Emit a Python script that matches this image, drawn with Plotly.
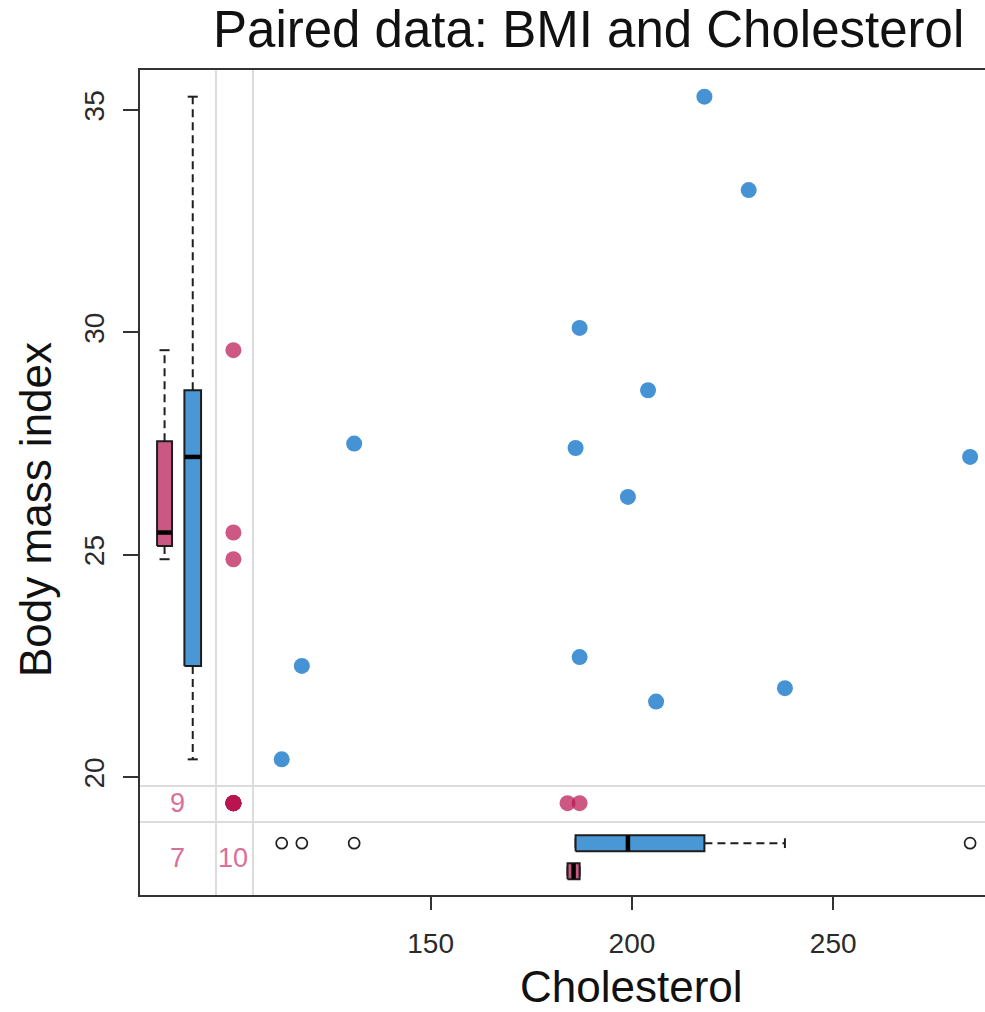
import numpy as np
import plotly.graph_objects as go

nan = np.nan

# nhanes subset: body mass index and total serum cholesterol for 25 subjects
bmi = [nan, 22.7, nan, nan, 20.4, nan, 22.5, 30.1, 22.0, nan, nan, nan, 21.7,
       28.7, 29.6, nan, 27.2, 26.3, 35.3, 25.5, nan, 33.2, 27.5, 24.9, 27.4]
chl = [nan, 187, 187, nan, 113, 184, 118, 187, 238, nan, nan, nan, 206,
       204, nan, nan, 284, 199, 218, nan, nan, 229, 131, nan, 186]

x_ticks = [150, 200, 250]
y_ticks = [20, 25, 30, 35]

title_text = "Paired data: BMI and Cholesterol"
x_label = "Cholesterol"
y_label = "Body mass index"

# ---- colours ----
BLUE = "#4592D4"
BLUE_BOX = "#4A97D6"
RED = "rgba(185,20,80,0.71)"
RED_BOX = "#C95983"
RED_TXT = "#D8709A"
INK = "#1E1E1E"
GRID = "#DCDCDC"
FONT = "Liberation Sans, Arial, sans-serif"

# ---- axis ranges and margin layout (data units) ----
X_RANGE = [77.8, 287.7]
Y_RANGE = [17.35, 35.90]
X_SEP = [96.67, 105.86]      # vertical separators of the "missing x" column
Y_SEP = [19.80, 18.99]       # horizontal separators of the "missing y" row
X_MISS = 101.0               # where values with missing cholesterol sit
Y_MISS = 19.415              # where values with missing BMI sit
X_BOX_RED, X_BOX_BLUE = 83.9, 90.9
Y_BOX_BLUE, Y_BOX_RED = 18.516, 17.886
X_COUNT = 87.0
Y_COUNT = 18.18

bmi_a = np.array(bmi, float)
chl_a = np.array(chl, float)
miss_b = np.isnan(bmi_a)
miss_c = np.isnan(chl_a)
both_obs = ~miss_b & ~miss_c


def fivenum(v):
    v = np.sort(np.asarray(v, float))
    n = len(v)
    n4 = np.floor((n + 3) / 2) / 2
    d = np.array([1, n4, (n + 1) / 2, n + 1 - n4, n]) - 1
    return 0.5 * (v[np.floor(d).astype(int)] + v[np.ceil(d).astype(int)])


def box_stats(v, coef=1.5):
    v = np.asarray(v, float)
    lo, h1, med, h3, hi = fivenum(v)
    iqr = h3 - h1
    inside = v[(v >= h1 - coef * iqr) & (v <= h3 + coef * iqr)]
    out = v[(v < h1 - coef * iqr) | (v > h3 + coef * iqr)]
    return dict(q1=h1, med=med, q3=h3, wlo=inside.min(), whi=inside.max(), out=out)


def add_box(fig, v, pos, half, staple, fill, horizontal=False):
    s = box_stats(v)

    def xy(a, b):
        # a runs along the value axis, b across it
        return (a, b) if horizontal else (b, a)

    # whiskers (dashed) and staples
    for h, w in ((s["q3"], s["whi"]), (s["q1"], s["wlo"])):
        if w != h:
            wx, wy = xy([h, w], [pos, pos])
            fig.add_trace(go.Scatter(x=wx, y=wy, mode="lines",
                                     line=dict(color=INK, width=2, dash="8px,5px"),
                                     hoverinfo="skip", showlegend=False))
        sx, sy = xy([w, w], [pos - staple, pos + staple])
        fig.add_trace(go.Scatter(x=sx, y=sy, mode="lines",
                                 line=dict(color=INK, width=2),
                                 hoverinfo="skip", showlegend=False))
    # box body
    bx, by = xy([s["q1"], s["q1"], s["q3"], s["q3"], s["q1"]],
                [pos - half, pos + half, pos + half, pos - half, pos - half])
    fig.add_trace(go.Scatter(x=bx, y=by, mode="lines", fill="toself",
                             fillcolor=fill, line=dict(color=INK, width=2),
                             hoverinfo="skip", showlegend=False))
    # median
    mx, my = xy([s["med"], s["med"]], [pos - half * 0.95, pos + half * 0.95])
    fig.add_trace(go.Scatter(x=mx, y=my, mode="lines",
                             line=dict(color="black", width=4.5),
                             hoverinfo="skip", showlegend=False))
    # outliers
    if len(s["out"]):
        ox, oy = xy(list(s["out"]), [pos] * len(s["out"]))
        fig.add_trace(go.Scatter(x=ox, y=oy, mode="markers",
                                 marker=dict(symbol="circle-open", size=11,
                                             color=INK, line=dict(width=1.7)),
                                 hoverinfo="skip", showlegend=False))


fig = go.Figure()

# separators of the missing-value margins
for xv in X_SEP:
    fig.add_shape(type="line", xref="x", yref="paper", x0=xv, x1=xv, y0=0, y1=1,
                  line=dict(color=GRID, width=2), layer="below")
for yv in Y_SEP:
    fig.add_shape(type="line", xref="paper", yref="y", x0=0, x1=1, y0=yv, y1=yv,
                  line=dict(color=GRID, width=2), layer="below")

# marginal boxplots of BMI (chl missing: red, chl observed: blue)
add_box(fig, bmi_a[miss_c & ~miss_b], X_BOX_RED, 1.86, 1.25, RED_BOX)
add_box(fig, bmi_a[~miss_c & ~miss_b], X_BOX_BLUE, 2.07, 1.25, BLUE_BOX)
# marginal boxplots of cholesterol (bmi observed: blue, bmi missing: red)
add_box(fig, chl_a[~miss_b & ~miss_c], Y_BOX_BLUE, 0.18, 0.11, BLUE_BOX, horizontal=True)
add_box(fig, chl_a[miss_b & ~miss_c], Y_BOX_RED, 0.18, 0.11, RED_BOX, horizontal=True)

# complete pairs
fig.add_trace(go.Scatter(x=chl_a[both_obs], y=bmi_a[both_obs], mode="markers",
                         marker=dict(size=16, color=BLUE), showlegend=False,
                         name="observed"))
# BMI observed, cholesterol missing
b_only = bmi_a[miss_c & ~miss_b]
fig.add_trace(go.Scatter(x=[X_MISS] * len(b_only), y=b_only, mode="markers",
                         marker=dict(size=16, color=RED), showlegend=False))
# cholesterol observed, BMI missing
c_only = chl_a[miss_b & ~miss_c]
fig.add_trace(go.Scatter(x=c_only, y=[Y_MISS] * len(c_only), mode="markers",
                         marker=dict(size=16, color=RED), showlegend=False))
# both missing
n_both = int((miss_b & miss_c).sum())
fig.add_trace(go.Scatter(x=[X_MISS] * n_both, y=[Y_MISS] * n_both, mode="markers",
                         marker=dict(size=16, color=RED), showlegend=False))

# missing counts
counts = [(X_COUNT, Y_MISS, int(miss_b.sum())),
          (X_COUNT, Y_COUNT, n_both),
          (X_MISS, Y_COUNT, int(miss_c.sum()))]
for cx, cy, n in counts:
    fig.add_annotation(x=cx, y=cy, xref="x", yref="y", text=str(n), showarrow=False,
                       font=dict(family=FONT, size=27, color=RED_TXT))

W, H = 985, 1012
ML, MT, MB = 140, 70, 117
PW, PH = W - ML, H - MT - MB


def px(xp):
    return (xp - ML) / PW


def py(yp):
    return (H - MB - yp) / PH


fig.add_annotation(x=px(588), y=py(30), xref="paper", yref="paper", text=title_text,
                   showarrow=False, xanchor="center", yanchor="middle",
                   font=dict(family=FONT, size=51, color="#111"))
fig.add_annotation(x=px(631), y=py(986), xref="paper", yref="paper", text=x_label,
                   showarrow=False, xanchor="center", yanchor="middle",
                   font=dict(family=FONT, size=44, color="#111"))
fig.add_annotation(x=px(35), y=py(510), xref="paper", yref="paper", text=y_label,
                   showarrow=False, xanchor="center", yanchor="middle", textangle=-90,
                   font=dict(family=FONT, size=44, color="#111"))

fig.update_layout(
    width=W, height=H,
    margin=dict(l=ML, r=0, t=MT, b=MB),
    paper_bgcolor="white", plot_bgcolor="white",
    showlegend=False,
    xaxis=dict(range=X_RANGE, tickvals=x_ticks, ticks="outside", ticklen=13,
               tickwidth=1.5, tickcolor="#333", showline=True, linecolor="#333",
               linewidth=2, mirror=True, showgrid=False, zeroline=False,
               ticklabelstandoff=9,
               tickfont=dict(family=FONT, size=28, color="#2a2a2a")),
    yaxis=dict(range=Y_RANGE, tickvals=y_ticks, ticks="outside", ticklen=15,
               tickwidth=1.5, tickcolor="#333", showline=True, linecolor="#333",
               linewidth=2, mirror=False, showgrid=False, zeroline=False,
               tickangle=-90, ticklabelstandoff=8,
               tickfont=dict(family=FONT, size=28, color="#2a2a2a")),
)

fig.write_html("out.html")
